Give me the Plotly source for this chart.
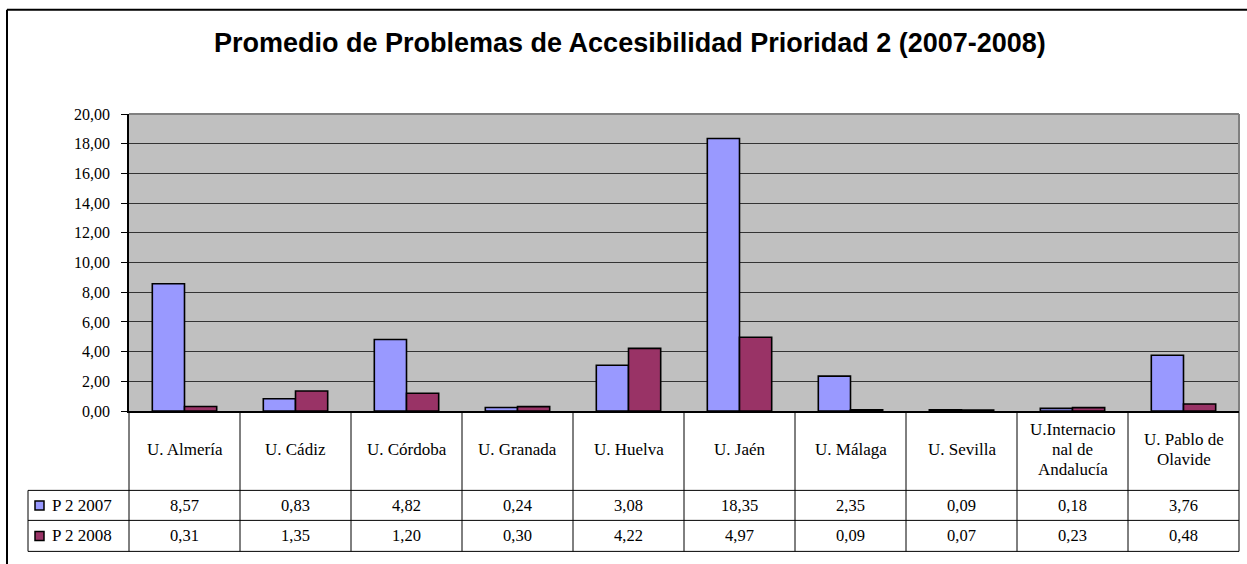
import plotly.graph_objects as go

# ---------------- data ----------------
categories = ["U. Almería", "U. Cádiz", "U. Córdoba", "U. Granada", "U. Huelva",
              "U. Jaén", "U. Málaga", "U. Sevilla", "U.Internacional de Andalucía",
              "U. Pablo de Olavide"]
category_lines = [["U. Almería"], ["U. Cádiz"], ["U. Córdoba"], ["U. Granada"],
                  ["U. Huelva"], ["U. Jaén"], ["U. Málaga"], ["U. Sevilla"],
                  ["U.Internacio", "nal de", "Andalucía"], ["U. Pablo de", "Olavide"]]
series_names = ["P 2 2007", "P 2 2008"]
p2_2007 = [8.57, 0.83, 4.82, 0.24, 3.08, 18.35, 2.35, 0.09, 0.18, 3.76]
p2_2008 = [0.31, 1.35, 1.20, 0.30, 4.22, 4.97, 0.09, 0.07, 0.23, 0.48]
y_tick_values = [0, 2, 4, 6, 8, 10, 12, 14, 16, 18, 20]
title_text = "Promedio de Problemas de Accesibilidad Prioridad 2 (2007-2008)"

# ---------------- layout constants ----------------
W, H = 1247, 564
PL, PR, PT, PB = 129, 1239, 113.7, 410.7   # plot area in pixels (target picture)
ROW1, ROW2, ROW3 = 490, 520, 551           # table row boundaries
LEG_L = 28
C2007, C2008 = "#9999FF", "#993366"
SERIF = "Liberation Serif, Times New Roman, serif"
# vertical calibration of the rendered page (observed: shown = 0.9697*set + 7.7)
VS, VO = 0.9697, 7.7


def px(x):
    return x / W


def py(y):
    return 1 - ((y - VO) / VS) / H


def fmt(v):
    return f"{v:.2f}".replace(".", ",")


fig = go.Figure()
for name, vals, col in [(series_names[0], p2_2007, C2007), (series_names[1], p2_2008, C2008)]:
    fig.add_trace(go.Bar(x=categories, y=vals, name=name,
                         marker=dict(color=col, line=dict(color="black", width=1.6))))

shapes = []
ann = []


def line(x0, y0, x1, y1, color="black", width=1):
    shapes.append(dict(type="line", xref="paper", yref="paper",
                       x0=px(x0), y0=py(y0), x1=px(x1), y1=py(y1),
                       line=dict(color=color, width=width)))


# outer frame (top + left)
line(7, 570, 7, 9.5, width=2)
line(7, 9.5, 1247, 9.5, width=2)
# plot area border top/right (gray)
line(PL, PT, PR, PT, color="#808080", width=2)
line(PR, PT, PR, PB, color="#808080", width=2)

# table grid
ncat = len(categories)
cw = (PR - PL) / ncat
for k in range(ncat + 1):
    line(PL + k * cw, PB, PL + k * cw, ROW3)
for yy in (ROW1, ROW2, ROW3):
    line(LEG_L, yy, PR, yy)
line(LEG_L, ROW1, LEG_L, ROW3)

# category labels
spacing = 20
for i, lines_ in enumerate(category_lines):
    cx = PL + (i + 0.5) * cw
    n = len(lines_)
    start = 449 - spacing * (n - 1) / 2
    for j, t in enumerate(lines_):
        ann.append(dict(x=px(cx), y=py(start + j * spacing), xref="paper", yref="paper",
                        text=t, showarrow=False, xanchor="center", yanchor="middle",
                        font=dict(family=SERIF, size=17, color="black")))

# values rows
for r, (vals, col, name) in enumerate([(p2_2007, C2007, series_names[0]),
                                        (p2_2008, C2008, series_names[1])]):
    cy = (ROW1 + ROW2) / 2 if r == 0 else (ROW2 + ROW3) / 2
    for i, v in enumerate(vals):
        cx = PL + (i + 0.5) * cw
        ann.append(dict(x=px(cx), y=py(cy), xref="paper", yref="paper",
                        text=fmt(v), showarrow=False, xanchor="center", yanchor="middle",
                        font=dict(family=SERIF, size=16.5, color="black")))
    # legend key
    shapes.append(dict(type="rect", xref="paper", yref="paper",
                       x0=px(35), x1=px(44), y0=py(cy - 4.5), y1=py(cy + 4.5),
                       fillcolor=col, line=dict(color="black", width=1.5)))
    ann.append(dict(x=px(50), y=py(cy), xref="paper", yref="paper",
                    text=name, showarrow=False, xanchor="left", yanchor="middle",
                    font=dict(family=SERIF, size=17, color="black")))

# title
ann.append(dict(x=px(630), y=py(43), xref="paper", yref="paper",
                text="<b>" + title_text + "</b>", showarrow=False,
                xanchor="center", yanchor="middle",
                font=dict(family="Liberation Sans, Arial, sans-serif", size=27, color="black")))

fig.update_layout(
    width=W, height=H,
    margin=dict(l=0, r=0, t=0, b=0),
    paper_bgcolor="white",
    plot_bgcolor="#C0C0C0",
    barmode="group", bargap=0.42, bargroupgap=0,
    showlegend=False,
    shapes=shapes, annotations=ann,
    xaxis=dict(domain=[px(PL), px(PR)], showticklabels=False, showgrid=False,
               showline=True, linecolor="black", linewidth=1.5, zeroline=False,
               fixedrange=True),
    yaxis=dict(domain=[py(PB), py(PT)], range=[0, 20],
               tickvals=y_tick_values, ticktext=[fmt(v) for v in y_tick_values],
               ticks="outside", ticklen=6, tickcolor="black", tickwidth=1,
               showline=True, linecolor="black", linewidth=1.5,
               showgrid=True, gridcolor="#333333", gridwidth=1, zeroline=False,
               tickfont=dict(family=SERIF, size=16, color="black"),
               ticklabelstandoff=8, fixedrange=True),
)

fig.write_html(
    "out.html",
    config={"displayModeBar": False},
    post_script=(
        "document.documentElement.style.margin='0';"
        "document.body.style.margin='0';"
        "document.body.style.overflow='hidden';"
        "var g=document.getElementById('{plot_id}');"
        "g.style.position='fixed';g.style.left='0px';g.style.top='0px';"
    ),
)
